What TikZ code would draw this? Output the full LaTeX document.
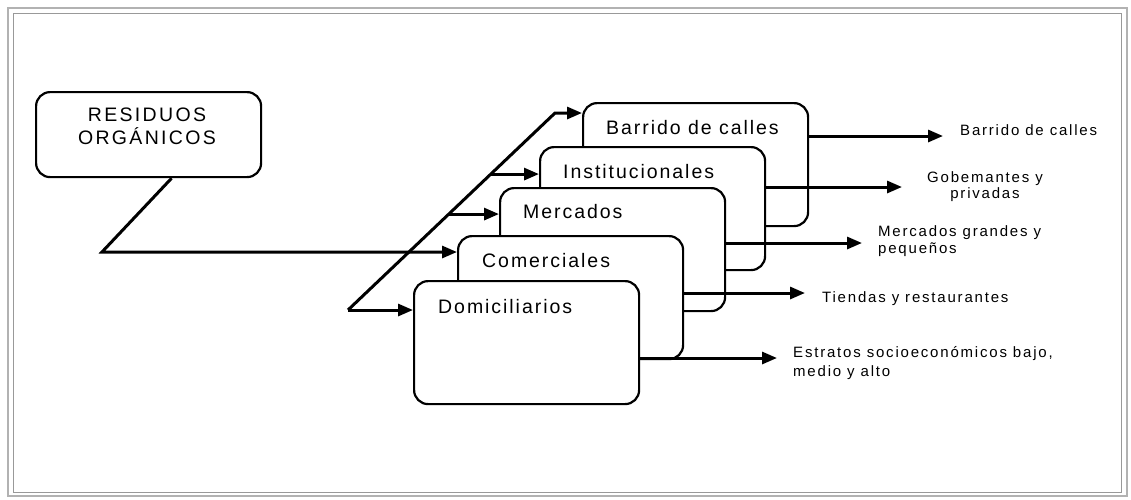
\documentclass[tikz,border=0pt]{standalone}
\usepackage{fontspec}
\setmainfont{Liberation Sans}
\newfontfamily\cajafont{Liberation Sans}[LetterSpace=10]
\newfontfamily\notafont{Liberation Sans}[LetterSpace=12]
\usetikzlibrary{positioning,arrows.meta,calc}

\tikzset{
    caja/.style={draw, line width=2.2pt, rounded corners=14pt, fill=white,
        minimum width=225pt, minimum height=123pt, anchor=north west, inner sep=0pt},
    titulo/.style={anchor=base west, inner sep=0pt, font=\cajafont\fontsize{19.5}{22}\selectfont},
    nota/.style={anchor=base west, inner sep=0pt, align=left, font=\notafont\fontsize{15}{17}\selectfont},
    flecha/.style={line width=3pt, -{Triangle[length=15pt,width=12pt]}},
}

\begin{document}
\begin{tikzpicture}[x=1pt,y=-1pt]
\useasboundingbox (0,0) rectangle (1131,499);
% marco
\draw[gray!60, line width=2pt] (8,8) rectangle (1127,496);
\draw[gray!80, line width=1.5pt] (13.5,13.5) rectangle (1121.5,492.5);

% origen
\node[draw, line width=2.2pt, rounded corners=14pt, minimum width=225pt, minimum height=85pt,
    anchor=north west] (res) at (35,91) {};
\node[align=center, inner sep=0pt, font=\notafont\fontsize{19.5}{23}\selectfont] (tres) at (147,126)
    {RESIDUOS\\ORGÁNICOS};

% cajas, de atras hacia adelante
\node[caja] (barrido) at (582,102) {};
\node[titulo] (tbarrido) at ([shift={(24,32)}]barrido.north west) {Barrido de calles};
\node[caja] (inst) at (539,146) {};
\node[titulo] (tinst) at ([shift={(24,32)}]inst.north west) {Institucionales};
\node[caja] (merc) at (499,187) {};
\node[titulo] (tmerc) at ([shift={(24,31)}]merc.north west) {Mercados};
\node[caja] (com) at (457,235) {};
\node[titulo] (tcom) at ([shift={(25,32)}]com.north west) {Comerciales};
\node[caja] (dom) at (413,280) {};
\node[titulo] (tdom) at ([shift={(25,33)}]dom.north west) {Domiciliarios};

% entradas
\coordinate (codo) at (102,252);
\coordinate (pie) at (348,310);
\coordinate (cima) at (555,113);
\coordinate (r1) at ($(pie)!0.69!(cima)$);
\coordinate (r2) at ($(pie)!0.487!(cima)$);
\draw[flecha] ([xshift=23pt]res.south) -- (codo) -- (com.west |- codo);
\draw[flecha] (pie) -- (cima) -- (barrido.west |- cima);
\draw[flecha] (pie) -- (dom.west |- pie);
\draw[flecha] (r1) -- (inst.west |- r1);
\draw[flecha] (r2) -- (merc.west |- r2);

% salidas
\coordinate (fb) at (943,136);
\coordinate (fi) at (902,187);
\coordinate (fm) at (862,243);
\coordinate (fc) at (805,293);
\coordinate (fd) at (777,358);
\draw[flecha] (barrido.east |- fb) -- (fb);
\draw[flecha] (inst.east |- fi) -- (fi);
\draw[flecha] (merc.east |- fm) -- (fm);
\draw[flecha] (com.east |- fc) -- (fc);
\draw[flecha] (dom.east |- fd) -- (fd);

\node[nota] (nb) at (960,135.5) {Barrido de calles};
\node[nota, anchor=base, align=center, font=\notafont\fontsize{15}{16}\selectfont] (ni) at (985,198.5) {Gobemantes y\\privadas};
\node[nota] (nm) at (878,253.5) {Mercados grandes y\\pequeños};
\node[nota] (nc) at (822,302) {Tiendas y restaurantes};
\node[nota, font=\notafont\fontsize{15}{19}\selectfont] (nd) at (793,376.5) {Estratos socioeconómicos bajo,\\medio y alto};
\end{tikzpicture}
\end{document}
